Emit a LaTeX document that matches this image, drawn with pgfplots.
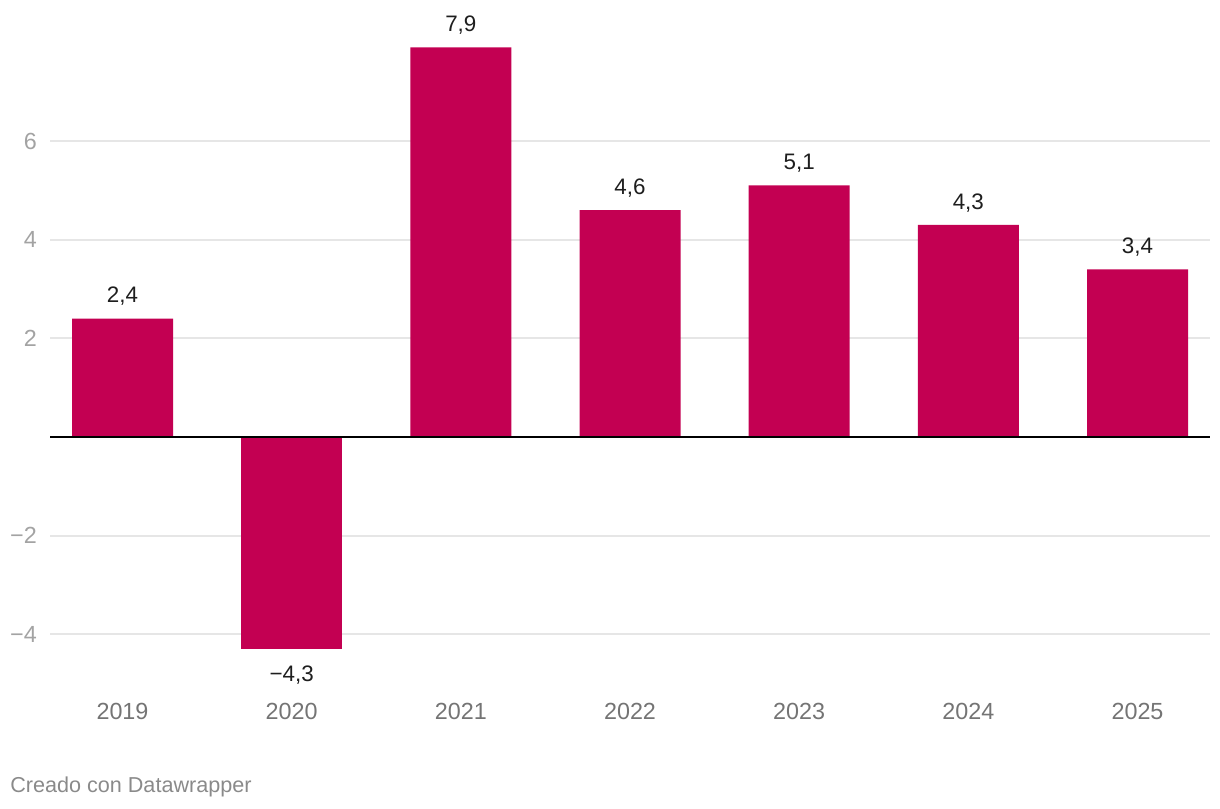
\documentclass[border=0pt]{standalone}
\usepackage{pgfplots}
\pgfplotsset{compat=1.18}
\usepackage{fontspec}
\setmainfont{Liberation Sans}
\definecolor{barc}{HTML}{C30052}
\definecolor{gridc}{HTML}{E6E6E6}
\definecolor{xlab}{HTML}{747474}
\definecolor{ylab}{HTML}{A3A3A3}
\definecolor{vlab}{HTML}{1E1E1E}
\definecolor{foot}{HTML}{8A8A8A}
\begin{document}
\begin{tikzpicture}
\begin{axis}[
  name=ax,
  at={(0,0)}, anchor=south west,
  scale only axis,
  width=870pt, height=451.2pt,
  xmin=-0.4286, xmax=6.4286,
  ymin=-4.3, ymax=7.9,
  axis line style={draw=none},
  major tick length=0pt,
  xticklabel shift=0pt, yticklabel shift=0pt,
  xtick={0,1,2,3,4,5,6},
  xticklabels={2019,2020,2021,2022,2023,2024,2025},
  ytick={-4,-2,2,4,6},
  yticklabels={{−4},{−2},{2},{4},{6}},
  xticklabel style={anchor=center, inner sep=0pt, yshift=-47.2pt, font=\fontsize{17.5}{20}\selectfont, text=xlab},
  yticklabel style={anchor=east, inner sep=0pt, xshift=-9.75pt, font=\fontsize{17.5}{20}\selectfont, text=ylab},
  ymajorgrids,
  grid style={gridc, line width=1.4pt},
  ybar, bar shift=0pt, bar width=75.75pt,
  clip=false,
]
\addplot[fill=barc, draw=none,
  nodes near coords, point meta=explicit symbolic,
  every node near coord/.append style={anchor=south, inner sep=0pt, yshift=9.5pt, text=vlab, font=\fontsize{16.8}{19}\selectfont}]
  table[meta=lab] {
x y lab
0 2.4 {2,4}
2 7.9 {7,9}
3 4.6 {4,6}
4 5.1 {5,1}
5 4.3 {4,3}
6 3.4 {3,4}
};
\addplot[fill=barc, draw=none,
  nodes near coords, point meta=explicit symbolic,
  every node near coord/.append style={anchor=north, inner sep=0pt, yshift=-12.5pt, text=vlab, font=\fontsize{16.8}{19}\selectfont}]
  table[meta=lab] {
x y lab
1 -4.3 {−4,3}
};
\addplot[sharp plot, black, line width=1.5pt, forget plot] coordinates {(-0.4286,0) (6.4286,0)};
\end{axis}
\node[anchor=west, inner sep=0pt, text=foot, font=\fontsize{16.2}{19}\selectfont] at ([shift={(-30pt,-103.5pt)}]ax.south west) {Creado con Datawrapper};
\pgfresetboundingbox
\path[use as bounding box] ([shift={(-37.5pt,-119.25pt)}]ax.south west) rectangle ([shift={(877.5pt,486.75pt)}]ax.south west);
\end{tikzpicture}
\end{document}
